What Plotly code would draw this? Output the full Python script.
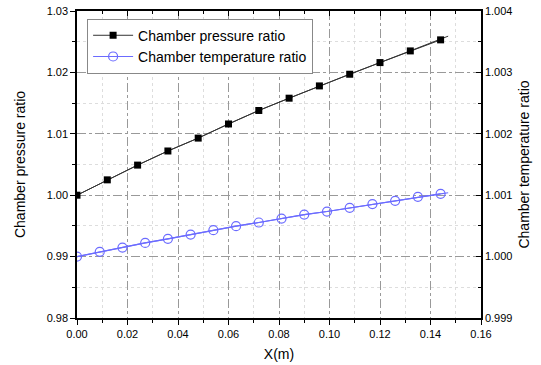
import plotly.graph_objects as go

# Data
x_p = [0.0, 0.012, 0.024, 0.036, 0.048, 0.060, 0.072, 0.084, 0.096, 0.108, 0.120, 0.132, 0.144]
pressure = [1.0000, 1.0025, 1.0049, 1.0072, 1.0093, 1.0116, 1.0138, 1.0158, 1.0178, 1.0197, 1.0216, 1.0235, 1.0253]
x_p_end = 0.147
p_end = 1.0259

x_t = [0.0, 0.009, 0.018, 0.027, 0.036, 0.045, 0.054, 0.063, 0.072, 0.081, 0.090,
       0.099, 0.108, 0.117, 0.126, 0.135, 0.144]
temperature = [1.000000, 1.000077, 1.000147, 1.000223, 1.000289, 1.000359, 1.000430, 1.000495,
               1.000555, 1.000620, 1.000685, 1.000734, 1.000794, 1.000855, 1.000909, 1.000974, 1.001023]
x_t_end = 0.147
t_end = 1.00104

font_family = "Liberation Sans, Arial, sans-serif"
blue = "#6b6bff"

fig = go.Figure()
fig.add_trace(go.Scatter(x=x_p + [x_p_end], y=pressure + [p_end], mode="lines",
                         line=dict(color="#333333", width=1), showlegend=False, hoverinfo="skip"))
fig.add_trace(go.Scatter(x=x_p, y=pressure, mode="markers+lines", name="Chamber pressure ratio",
                         line=dict(color="#333333", width=1),
                         marker=dict(symbol="square", size=7, color="black")))
fig.add_trace(go.Scatter(x=x_t + [x_t_end], y=temperature + [t_end], mode="lines", yaxis="y2",
                         line=dict(color=blue, width=1.2), showlegend=False, hoverinfo="skip"))
fig.add_trace(go.Scatter(x=x_t, y=temperature, mode="markers+lines", yaxis="y2",
                         name="Chamber temperature ratio",
                         line=dict(color=blue, width=1.2),
                         marker=dict(symbol="circle-open", size=9, color=blue, line=dict(width=1.2))))
# invisible trace for top axis
fig.add_trace(go.Scatter(x=[0], y=[1.0], xaxis="x2", mode="markers", marker=dict(opacity=0),
                         showlegend=False, hoverinfo="skip"))

axis_common = dict(showline=True, linecolor="black", linewidth=1.5,
                   tickcolor="black", ticklen=5, tickwidth=1, automargin=False,
                   tickfont=dict(family=font_family, size=11, color="black"))

fig.update_layout(
    width=541, height=365,
    margin=dict(l=77, r=60, t=11, b=47),
    plot_bgcolor="white", paper_bgcolor="white",
    font=dict(family=font_family, color="black"),
    xaxis=dict(range=[0, 0.16], dtick=0.02, tickformat=".2f", zeroline=False, ticks="outside",
               showgrid=True, gridcolor="#999999", griddash="dashdot", gridwidth=1,
               minor=dict(dtick=0.01, ticks="outside", ticklen=3, tickcolor="black",
                          showgrid=True, gridcolor="#dddddd", griddash="dot"),
               title=dict(text="X(m)", font=dict(family=font_family, size=14), standoff=10),
               **axis_common),
    xaxis2=dict(range=[0, 0.16], overlaying="x", side="top", anchor="y", showline=True,
                linecolor="black", linewidth=1.5, ticks="inside", ticklen=5, tickcolor="black",
                dtick=0.02, showticklabels=False, showgrid=False, zeroline=False, automargin=False,
                minor=dict(dtick=0.01, ticks="inside", ticklen=3, tickcolor="black")),
    yaxis=dict(range=[0.98, 1.03], dtick=0.01, tickformat=".2f", zeroline=False, ticks="outside",
               showgrid=True, gridcolor="#999999", griddash="dashdot", gridwidth=1,
               minor=dict(dtick=0.005, ticks="outside", ticklen=3, tickcolor="black",
                          showgrid=True, gridcolor="#dddddd", griddash="dot"),
               title=dict(text="Chamber pressure ratio", font=dict(family=font_family, size=14), standoff=18),
               **axis_common),
    yaxis2=dict(range=[0.999, 1.004], dtick=0.001, tickformat=".3f", overlaying="y", side="right",
                zeroline=False, showgrid=False, ticks="inside",
                minor=dict(dtick=0.0005, ticks="inside", ticklen=3, tickcolor="black"),
                title=dict(text="Chamber temperature ratio", font=dict(family=font_family, size=14), standoff=8),
                **axis_common),
    legend=dict(x=0.025, y=0.975, xanchor="left", yanchor="top", bgcolor="white",
                bordercolor="#888888", borderwidth=1,
                font=dict(family=font_family, size=14, color="black"),
                tracegroupgap=0, itemwidth=40),
)

fig.write_html("out.html", config={"displayModeBar": False})

# remove default page margin so the figure fills the window exactly
with open("out.html", "r", encoding="utf-8") as f:
    html = f.read()
html = html.replace("<head>", "<head><style>html,body{margin:0;padding:0;overflow:hidden;}</style>", 1)
with open("out.html", "w", encoding="utf-8") as f:
    f.write(html)
